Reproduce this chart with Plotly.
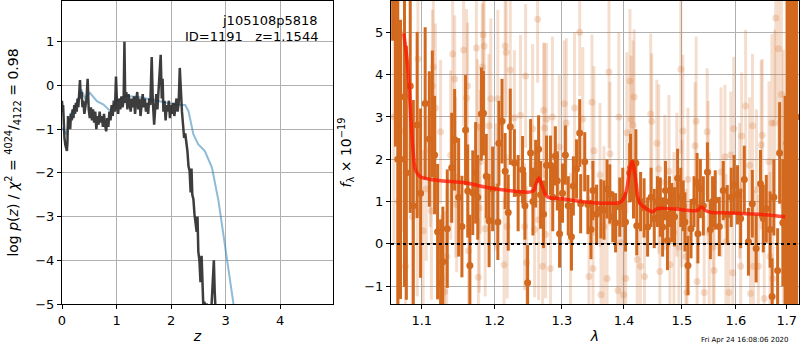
import plotly.graph_objects as go

# ---------------- left panel: p(z) ----------------
pz_z = [0.00, 0.01, 0.02, 0.03, 0.045, 0.06, 0.075, 0.09, 0.10, 0.11, 0.12, 0.135, 0.15, 0.165, 0.18,
        0.195, 0.21, 0.225, 0.24, 0.255, 0.27, 0.285, 0.30, 0.315, 0.33, 0.345, 0.36, 0.375, 0.39, 0.41,
        0.43, 0.45, 0.47, 0.49, 0.51, 0.53, 0.55, 0.57, 0.59, 0.61, 0.63, 0.65, 0.67, 0.69, 0.71, 0.73,
        0.75, 0.77, 0.79, 0.81, 0.83, 0.85, 0.87, 0.89, 0.91, 0.93, 0.95, 0.97, 0.99, 1.01, 1.03, 1.05,
        1.07, 1.09, 1.11, 1.13, 1.145, 1.16, 1.18, 1.20, 1.22, 1.24, 1.26, 1.28, 1.30, 1.32, 1.34, 1.36,
        1.38, 1.40, 1.42, 1.44, 1.46, 1.48, 1.50, 1.52, 1.54, 1.56, 1.58, 1.60, 1.62, 1.645, 1.665, 1.69,
        1.71, 1.73, 1.75, 1.77, 1.79, 1.81, 1.83, 1.845, 1.86, 1.88, 1.90, 1.92, 1.94, 1.96, 1.98, 2.00,
        2.02, 2.04, 2.06, 2.08, 2.10, 2.12, 2.14, 2.16, 2.18, 2.20, 2.22, 2.24, 2.26, 2.28, 2.30, 2.32,
        2.34, 2.36, 2.375, 2.39, 2.41, 2.43, 2.45, 2.47, 2.485, 2.50, 2.52, 2.54, 2.56, 2.575, 2.59, 2.61,
        2.63, 2.65, 2.67, 2.70, 2.74, 2.77, 2.785, 2.80, 2.815, 2.83]
pz_logp = [-0.35, -0.6, -0.45, -0.9, -1.2, -1.35, -1.45, -1.5, -1.3, -0.7, -1.0, -0.75, -1.0, -0.65, -0.8,
           -0.55, -0.75, -0.45, -0.65, -0.4, -0.6, -0.3, -0.5, -0.2, 0.12, -0.3, -0.15, -0.5, -0.35, -0.65,
           -0.45, -0.3, 0.15, -0.55, -0.75, -0.5, -0.8, -0.55, -0.85, -0.6, -1.0, -0.7, -0.9, -0.6, -0.85, -0.7,
           -0.95, -0.65, -0.9, -1.05, -0.75, -0.95, -0.6, -0.8, -0.45, -0.7, -0.35, -0.6, 0.2, -0.45, -0.65, -0.3,
           -0.55, -0.25, -0.5, -0.35, 1.0, -0.4, -0.15, -0.55, -0.2, -0.45, -0.6, -0.3, -0.5, -0.25, -0.65, -0.35,
           -0.15, -0.55, -0.3, -0.7, -0.45, -0.2, -0.5, -0.3, -0.6, -0.4, -0.65, -0.3, -0.45, 0.65, -0.35, -0.9,
           -0.5, -0.2, -0.55, -0.1, 0.1, 0.7, -0.3, 0.15, -0.6, -0.35, -0.8, -0.45, -0.6, -0.35, -0.75, -0.45,
           -0.65, -0.4, -0.7, -0.5, -0.3, -0.6, -0.4, 0.4, -0.2, -0.6, -0.9, -1.2, -1.1, -1.3, -1.5, -1.85,
           -1.95, -2.45, -1.9, -2.5, -2.6, -2.95, -3.1, -3.35, -3.0, -3.8, -4.0, -4.5, -3.9, -4.7, -5.0, -4.95,
           -5.05, -5.0, -5.05, -5.1, -5.1, -4.5, -4.0, -4.7, -5.2, -5.5]

chi_z = [0.0, 0.086, 0.147, 0.24, 0.36, 0.42, 0.51, 0.64, 0.76, 0.88, 1.0, 1.16, 1.43, 1.68, 1.92,
         2.1, 2.26, 2.32, 2.41, 2.50, 2.62, 2.75, 2.87, 2.96, 3.05, 3.14, 3.18]
chi_logp = [-0.97, -1.12, -0.67, -0.51, -0.1, -0.29, -0.17, -0.36, -0.44, -0.58, -0.36, -0.24, -0.27, -0.33, -0.40,
            -0.44, -0.45, -0.59, -1.12, -1.35, -1.5, -1.88, -2.64, -3.4, -4.23, -4.98, -5.3]

# ---------------- right panel: spectrum ----------------
good_wave = [1.0625, 1.066, 1.069, 1.0725, 1.0776, 1.080, 1.085, 1.089, 1.094, 1.0985, 1.1045, 1.110, 1.114,
             1.117, 1.121, 1.125, 1.128, 1.134, 1.140, 1.144, 1.1495, 1.154, 1.159, 1.162, 1.165, 1.169, 1.173,
             1.176, 1.181, 1.184, 1.188, 1.192, 1.197, 1.2045, 1.206, 1.2105, 1.215, 1.2195, 1.2225, 1.2285,
             1.234, 1.2405, 1.244, 1.248, 1.2525, 1.256, 1.260, 1.2645, 1.2675, 1.272, 1.2765, 1.2825, 1.286,
             1.290, 1.293, 1.2965, 1.301, 1.3055, 1.310, 1.315, 1.318, 1.323, 1.328, 1.3295, 1.336, 1.341,
             1.346, 1.349, 1.355, 1.362, 1.367, 1.372, 1.3765, 1.3815, 1.386, 1.393, 1.398, 1.4025, 1.4095,
             1.411, 1.416, 1.420, 1.4215, 1.428, 1.434, 1.440, 1.446, 1.4515, 1.457, 1.462, 1.466, 1.471,
             1.4745, 1.478, 1.482, 1.487, 1.4925, 1.498, 1.5025, 1.5055, 1.511, 1.5165, 1.522, 1.5275, 1.529,
             1.5335, 1.539, 1.5465, 1.552, 1.556, 1.561, 1.5685, 1.576, 1.5835, 1.591, 1.5965, 1.603, 1.609,
             1.616, 1.624, 1.6315, 1.639, 1.6475, 1.653, 1.659, 1.6665, 1.6705, 1.674, 1.6815, 1.6855, 1.692,
             1.6965, 1.7005, 1.704, 1.708, 1.712, 1.716, 1.720]
good_flux = [8.0, 5.0, 2.0, 2.0, 3.48, 1.68, 3.73, 0.9, 2.81, 1.2, 3.32, 2.48, 3.07,
             2.10, 0.29, -0.92, -0.42, 0.36, 1.80, 2.46, 1.10, 0.41, 2.69, 1.25, -0.51, 1.21, 1.68,
             1.10, 3.07, 3.09, 1.6, 0.55, 1.3, 0.52, 2.38, 2.90, 1.72, 0.74, 2.77, 1.91,
             1.2, 1.75, 0.9, -0.92, 2.15, 1.0, 1.66, 2.24, 1.16, 0.7, 1.86, 1.86, 1.1,
             2.08, 1.49, 0.24, 1.2, 2.10, 0.9, 0.17, 1.37, 1.77, 2.62, 0.95, 1.94, 0.93,
             0.34, 1.26, 0.7, 0.83, 0.80, 1.3, 1.18, 0.64, 0.50, 0.87, 1.1, 0.52, 1.68,
             1.80, 1.3, 1.91, 0.43, 1.0, 0.85, 0.4, 1.1, 0.60, 1.0, 0.87, 0.4, 1.26,
             0.08, 1.0, 0.74, 0.64, 1.55, 1.10, 0.9, 0.52, -0.51, 0.36, 1.0, 1.45, 0.24,
             1.31, 0.9, 1.70, 0.34, 1.0, 1.04, 0.41, 1.26, 0.69, 1.10, 1.40, 1.16, 0.6,
             1.52, 0.05, 0.95, -0.11, 1.42, 0.6, 0.83, 0.34, -1.24, 1.10, -0.63, 2.15, 0.5,
             1.0, 2.38, 3.0, 1.37, 4.0, 2.0, 3.0]
good_err = [3.2, 2.7, 5.0, 3.3, 4.5, 3.0, 3.0, 2.5, 2.2, 2.0, 1.8, 1.6, 1.5,
            1.4, 1.6, 1.5, 1.3, 1.4, 1.3, 1.2, 1.4, 1.2, 1.3, 1.1, 1.2, 1.0, 1.2,
            1.0, 1.1, 1.0, 1.0, 1.1, 1.0, 0.9, 1.0, 1.0, 0.9, 0.9, 0.9, 0.8,
            0.9, 0.8, 0.8, 0.9, 0.8, 0.8, 0.8, 0.8, 0.8, 0.8, 0.7, 0.7, 0.8,
            0.7, 0.7, 0.8, 0.7, 0.7, 0.7, 0.8, 0.7, 0.7, 0.8, 0.7, 0.7, 0.7,
            0.7, 0.7, 0.7, 0.7, 0.7, 0.7, 0.7, 0.6, 0.7, 0.7, 0.7, 0.7, 0.7,
            0.8, 0.7, 0.8, 0.7, 0.7, 0.7, 0.7, 0.7, 0.7, 0.6, 0.7, 0.7, 0.7,
            0.7, 0.6, 0.7, 0.7, 0.7, 0.7, 0.6, 0.7, 0.7, 0.7, 0.6, 0.7, 0.7,
            0.7, 0.7, 0.7, 0.7, 0.6, 0.7, 0.7, 0.7, 0.7, 0.7, 0.7, 0.7, 0.7,
            0.8, 0.8, 0.8, 0.8, 0.8, 0.8, 0.8, 0.9, 0.9, 0.9, 1.0, 1.2, 1.5,
            2.5, 4.0, 6.0, 6.0, 7.0, 7.0, 7.0]

all_wave = [1.0640, 1.0700, 1.0763, 1.0789, 1.0877, 1.0941, 1.0950, 1.1018, 1.1059, 1.1113, 1.1127, 1.1141,
            1.1154, 1.1181, 1.1250, 1.1263, 1.1304, 1.1332, 1.1386, 1.1413, 1.1441, 1.1454, 1.1468, 1.1563,
            1.1604, 1.1618, 1.1632, 1.1741, 1.1754, 1.1768, 1.1782, 1.1795, 1.1823, 1.1836, 1.1850, 1.1864,
            1.1918, 1.1945, 1.2015, 1.2045, 1.2135, 1.2150, 1.2165, 1.2180, 1.2225, 1.2285, 1.2375, 1.2435,
            1.2450, 1.2465, 1.2555, 1.2585, 1.2630, 1.2645, 1.2705, 1.2720, 1.2735, 1.2750, 1.2765, 1.2825,
            1.2855, 1.2960, 1.3037, 1.3070, 1.3135, 1.3199, 1.3280, 1.3329, 1.3427, 1.3475, 1.3492, 1.3508,
            1.3605, 1.3622, 1.3670, 1.3720, 1.3752, 1.3768, 1.3898, 1.3914, 1.3947, 1.3995, 1.4030, 1.4048,
            1.4100, 1.4118, 1.4153, 1.4171, 1.4224, 1.4277, 1.4347, 1.4453, 1.4471, 1.4559, 1.4594, 1.4612,
            1.4700, 1.4771, 1.4788, 1.4859, 1.4912, 1.4947, 1.4982, 1.5000, 1.5018, 1.5074, 1.5092, 1.5110,
            1.5239, 1.5258, 1.5276, 1.5405, 1.5460, 1.5479, 1.5497, 1.5571, 1.5589, 1.5718, 1.5792, 1.5810,
            1.5866, 1.5902, 1.5939, 1.5958, 1.6070, 1.6090, 1.6109, 1.6185, 1.6262, 1.6280, 1.6319, 1.6338,
            1.6395, 1.6433, 1.6490, 1.6509, 1.6548, 1.6643, 1.6662, 1.6700, 1.6719, 1.6757, 1.6777, 1.6834,
            1.6891, 1.6930]
all_flux = [3.0, 1.0, 2.67, -0.53, 0.64, 0.76, 4.37, 0.31, 1.30, 2.20, 0.78, 3.73,
            4.18, 3.21, 2.65, -0.82, -1.13, -0.30, 2.10, 4.49, 3.90, 1.58, 0.93, 4.58,
            3.45, 3.73, -0.16, 4.63, 2.76, -0.79, 0.85, 1.94, 4.18, 4.94, 4.68, 0.36,
            2.79, 3.43, 1.35, 3.43, -0.49, 4.68, 4.53, 0.41, 4.11, 2.98, 3.04, 0.41,
            3.97, -0.44, 2.72, 0.34, 5.31, 0.57, -0.53, 3.16, 2.74, 0.22, 2.95, -0.58,
            3.00, 2.29, 3.31, 2.86, 0.08, 3.21, 5.00, 2.95, -0.77, 3.35, -0.58, 2.20,
            1.63, -1.20, 0.41, -0.82, 4.06, 2.13, -1.10, 3.00, 0.03, -1.20, -0.82, 2.63,
            3.85, 2.95, 2.81, 3.47, -0.37, -0.53, -0.77, 3.07, 2.90, 2.38, 1.77, -0.65,
            1.45, 1.72, -0.49, 0.27, 1.40, -0.07, 4.13, 0.95, 2.67, -0.30, -1.15, 1.52,
            2.32, 2.90, -0.89, -1.15, 2.65, 1.68, 0.27, -0.07, -0.63, 1.70, 2.06, 0.05,
            -1.15, 2.10, -0.68, 2.72, 1.26, -0.53, 2.55, 3.26, 1.86, -1.17, 2.79, -0.53,
            1.28, -0.53, 2.34, 2.57, -1.29, 1.94, -0.30, 2.86, -0.82, 2.86, 5.34, 4.61,
            3.53, 1.59]
all_err = [3.0, 2.5, 2.4, 2.3, 2.2, 2.0, 2.1, 1.9, 1.7, 1.8, 2.1, 1.8,
           1.6, 2.0, 1.7, 1.5, 1.9, 1.6, 2.0, 1.7, 1.5, 1.9, 1.6, 1.8,
           2.1, 1.5, 1.7, 1.9, 1.6, 1.4, 2.0, 1.7, 1.5, 1.8, 2.0, 1.6,
           1.7, 1.9, 1.5, 2.1, 1.6, 1.8, 1.5, 1.7, 2.0, 1.6, 1.9, 1.5,
           1.7, 1.8, 2.0, 1.6, 1.5, 1.9, 1.7, 1.6, 2.0, 1.5, 1.8, 1.6,
           1.9, 1.7, 1.5, 2.0, 1.6, 1.8, 1.5, 1.7, 1.9, 1.6, 1.5, 2.0,
           1.7, 1.6, 1.9, 1.5, 1.8, 1.7, 1.6, 2.0, 1.5, 1.8, 1.6, 1.9,
           1.7, 1.5, 2.0, 1.6, 1.8, 1.5, 1.7, 1.9, 1.6, 1.5, 2.0, 1.7,
           1.6, 1.8, 1.5, 1.9, 1.7, 1.6, 2.0, 1.5, 1.8, 1.6, 1.9, 1.7,
           1.5, 2.0, 1.6, 1.8, 1.5, 1.7, 1.9, 1.6, 1.5, 2.0, 1.7, 1.6,
           1.8, 1.5, 1.9, 1.7, 1.6, 2.0, 1.5, 1.8, 1.6, 1.9, 1.7, 1.8,
           1.9, 1.7, 2.0, 1.8, 1.9, 1.9, 2.0, 2.1, 2.0, 2.2, 2.4, 2.5,
           2.7, 3.0]

model_wave = [1.0767, 1.0818, 1.0852, 1.0886, 1.0919, 1.0978, 1.1050, 1.1113, 1.1350, 1.1568, 1.1932, 1.2325,
              1.2525, 1.2580, 1.2600, 1.2650, 1.2700, 1.2775, 1.3026, 1.3460, 1.3729, 1.3946, 1.4030, 1.4088,
              1.4136, 1.4189, 1.4265, 1.4383, 1.4483, 1.4559, 1.4706, 1.5000, 1.5276, 1.5356, 1.5430, 1.5521,
              1.5921, 1.6552, 1.6967]
model_flux = [4.97, 4.19, 3.17, 2.22, 1.75, 1.59, 1.55, 1.52, 1.48, 1.45, 1.32, 1.24,
              1.23, 1.28, 1.40, 1.56, 1.36, 1.12, 1.06, 0.98, 0.96, 0.99, 1.20, 1.67,
              1.95, 1.59, 0.97, 0.83, 0.76, 0.83, 0.84, 0.81, 0.79, 0.87, 0.79, 0.75,
              0.73, 0.69, 0.64]

lam_ticks = [1.1, 1.2, 1.3, 1.4, 1.5, 1.6, 1.7]
lam_ticktext = ["1.1", "1.2", "1.3", "1.4", "1.5", "1.6", "1.7"]

SPEC = "rgb(210,105,30)"
SPEC_LIGHT = "rgba(210,105,30,0.22)"
FONT = "DejaVu Sans"

fig = go.Figure()

fig.add_trace(go.Scatter(x=chi_z, y=chi_logp, mode="lines", xaxis="x", yaxis="y",
                         line=dict(color="rgba(31,119,180,0.5)", width=2), showlegend=False))
fig.add_trace(go.Scatter(x=pz_z, y=pz_logp, mode="lines", xaxis="x", yaxis="y",
                         line=dict(color="rgba(40,40,40,0.9)", width=2.5), showlegend=False))

fig.add_trace(go.Scatter(x=all_wave, y=all_flux, mode="markers", xaxis="x2", yaxis="y2",
                         marker=dict(color=SPEC_LIGHT, size=7),
                         error_y=dict(type="data", array=all_err, color=SPEC_LIGHT, thickness=3, width=0),
                         showlegend=False))
fig.add_trace(go.Scatter(x=good_wave, y=good_flux, mode="markers", xaxis="x2", yaxis="y2",
                         marker=dict(color=SPEC, size=7),
                         error_y=dict(type="data", array=good_err, color=SPEC, thickness=3, width=0),
                         showlegend=False))
fig.add_trace(go.Scatter(x=model_wave, y=model_flux, mode="lines", xaxis="x2", yaxis="y2",
                         line=dict(color="rgba(255,20,0,0.75)", width=3.5, shape="spline"),
                         showlegend=False))

axis_common = dict(showline=True, linecolor="black", linewidth=1, mirror=True,
                   ticks="outside", ticklen=4, tickcolor="black", automargin=False,
                   showgrid=True, gridcolor="#b0b0b0", gridwidth=1, zeroline=False,
                   tickfont=dict(family=FONT, size=13, color="black"))

fig.update_layout(
    width=800, height=350,
    margin=dict(l=0, r=0, t=0, b=0, autoexpand=False),
    paper_bgcolor="white", plot_bgcolor="white",
    font=dict(family=FONT, size=13, color="black"),
    xaxis=dict(domain=[0.0775, 0.41625], range=[0, 4.97], tickvals=[0, 1, 2, 3, 4],
               title=dict(text="<i>z</i>", font=dict(size=14), standoff=4), anchor="y", **axis_common),
    yaxis=dict(domain=[0.1314, 0.9971], range=[-5, 1.93], tickvals=[-5, -4, -3, -2, -1, 0, 1],
               title=dict(text="log <i>p</i>(<i>z</i>) / <i>χ</i><sup>2</sup> = <sup>4024</sup>/<sub>4122</sub> = 0.98",
                          font=dict(size=14), standoff=13), anchor="x", **axis_common),
    xaxis2=dict(domain=[0.48875, 0.99875], type="log", range=[0.02547, 0.23677],
                tickvals=lam_ticks, ticktext=lam_ticktext,
                title=dict(text="<i>λ</i>", font=dict(size=14), standoff=4), anchor="y2", **axis_common),
    yaxis2=dict(domain=[0.1314, 0.9971], range=[-1.42, 5.74], tickvals=[-1, 0, 1, 2, 3, 4, 5],
                title=dict(text="<i>f</i><sub>λ</sub> × 10<sup>−19</sup>", font=dict(size=14), standoff=9),
                anchor="x2", **axis_common),
    shapes=[dict(type="line", xref="x2 domain", x0=0, x1=1, yref="y2", y0=0, y1=0,
                 line=dict(color="black", width=2, dash="dot"))],
    annotations=[
        dict(text="j105108p5818", xref="x", yref="y", x=4.73, y=1.49, xanchor="right", yanchor="middle",
             showarrow=False, font=dict(family=FONT, size=13)),
        dict(text="ID=1191   z=1.1544", xref="x", yref="y", x=4.73, y=1.12, xanchor="right", yanchor="middle",
             showarrow=False, font=dict(family=FONT, size=13)),
        dict(text="Fri Apr 24 16:08:06 2020", xref="paper", yref="paper", x=0.931, y=0.028,
             xanchor="center", yanchor="middle", showarrow=False, font=dict(family=FONT, size=7)),
    ],
)

fig.write_html("out.html", config={"displayModeBar": False},
               post_script="document.body.style.margin='0';document.body.style.padding='0';document.body.style.overflow='hidden';")
